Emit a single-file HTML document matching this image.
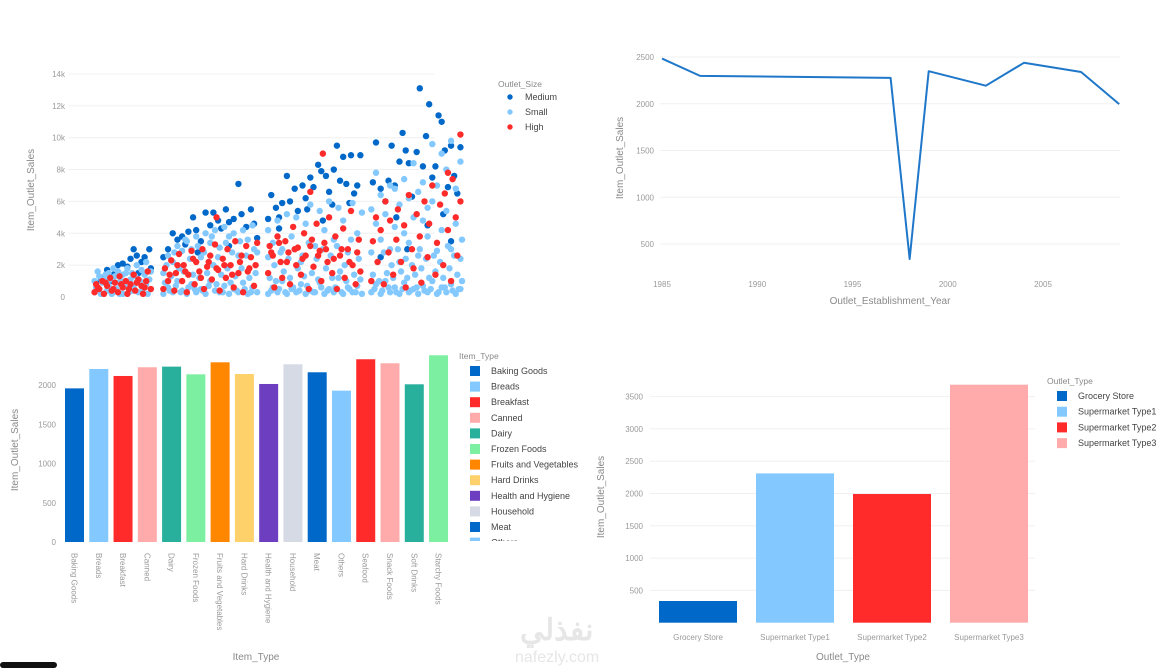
<!DOCTYPE html>
<html><head><meta charset="utf-8"><style>
html,body{margin:0;padding:0;background:#fff;}
svg{display:block;font-family:"Liberation Sans","Noto Sans CJK SC",sans-serif;}
.tk{fill:#9a9a9a;font-size:8px;}
.ti{fill:#8a8a8a;font-size:10px;}
.lg{fill:#444;font-size:9px;}
.lt{fill:#888;font-size:8.5px;}
</style></head><body>
<svg id="s" width="1160" height="668" viewBox="0 0 1160 668">
<g id="scatter"></g>
<g id="line"></g>
<g id="bar1"></g>
<g id="bar2"></g>
<text x="520" y="640" fill="#e6e6e6" font-size="30" font-weight="bold">نفذلي</text>
<text x="515" y="662" fill="#e6e6e6" font-size="16">nafezly.com</text>
<rect x="0" y="662" width="57" height="6" rx="3" fill="#111"></rect>
</svg>
<script>
const NS="http://www.w3.org/2000/svg";
function mk(p,tag,a,txt){const e=document.createElementNS(NS,tag);for(const k in a)e.setAttribute(k,a[k]);if(txt!==undefined)e.textContent=txt;p.appendChild(e);return e;}

// ---------- Scatter data ----------
const scTicks=[0,2,4,6,8,10,12,14];
const scTickLabels=["0","2k","4k","6k","8k","10k","12k","14k"];
const scSeriesNames=["Medium","Small","High"];
const scColors=["#0068c9","#83c9ff","#ff2b2b"];
const mediumMrp=[33,36,40,44,47,50,53,55,57,59,62,64,67,68,42,60,76,79,82,85,88,90,92,95,97,100,103,106,108,111,113,116,118,121,124,126,129,132,134,136,98,118,143,145,148,150,152,155,157,160,162,165,167,170,172,175,177,180,182,185,187,189,191,193,196,198,200,202,168,184,195,150,178,210,212,215,218,220,222,224,227,229,231,233,235,238,240,242,244,246,248,250,252,254,256,258,260,262,264,266,225,245,255,232,260,215];
const mediumSales=[0.9,1.2,1.7,1.4,2.0,2.1,1.9,2.4,3.0,2.6,2.2,2.5,3.0,1.8,1.0,1.5,2.5,3.0,4.0,3.6,3.8,3.3,4.1,5.0,4.2,3.5,5.3,4.5,5.3,4.8,4.3,5.5,4.7,4.9,7.1,5.2,4.4,5.5,4.6,3.7,2.8,3.2,4.9,6.4,5.6,5.0,5.9,7.6,6.0,6.8,5.4,7.0,6.2,7.5,6.9,8.3,7.9,7.6,6.6,8.0,9.5,7.3,8.8,7.1,8.9,6.5,7.0,8.9,5.5,5.8,5.9,4.3,4.8,7.2,9.7,6.8,6.0,7.3,9.5,7.0,8.5,10.3,9.2,8.4,6.3,9.1,13.1,8.2,10.1,12.1,7.5,8.2,11.4,11.0,9.2,6.9,9.5,7.6,6.5,9.4,5.0,4.5,5.2,3.0,3.5,2.5];
const smallMrpA=[32,32,35,35,38,38,41,41,44,44,47,47,50,50,53,53,56,56,59,59,62,62,65,65,68,68,76,76,79,79,82,82,85,85,88,88,91,91,94,94,97,97,100,100,103,103,106,106,109,109,112,112,115,115,118,118,121,121,124,124,127,127,130,130,133,133,136,136,143,143,143,146,146,149,149,152,152,155,155,158,158,161,161,164,164,167,167,170,170,173,173,176,176,179,179,182,182,185,185,188,188,191,191,194,194,197,197,200,200,203,203,209,209,209,212,212,212,215,215,215,218,218,221,221,221,224,224,224,227,227,227,230,230,230,233,233,233,236,236,236,239,239,239,242,242,242,245,245,245,248,248,248,251,251,251,254,254,254,257,257,257,260,260,260,263,263,263,266,266,266];
const smallSalesA=[0.3,1.0,0.5,1.3,0.2,1.1,0.7,1.5,0.3,1.8,0.9,1.6,0.2,1.4,0.6,1.8,0.4,1.5,0.9,2.0,0.3,1.7,0.8,2.2,0.5,1.6,0.2,1.5,0.6,2.6,0.3,2.2,1.0,3.2,0.4,2.9,0.2,3.5,0.8,3.0,0.3,3.8,0.5,2.5,0.2,4.0,1.0,3.4,0.4,4.2,0.3,3.1,0.7,4.4,0.2,3.8,0.5,4.0,0.3,2.6,0.9,4.2,0.2,3.6,0.6,4.5,0.3,2.8,0.2,2.5,4.2,0.6,3.4,0.3,4.8,1.0,3.0,0.2,5.2,0.5,3.8,0.3,5.0,0.8,2.2,0.2,4.6,0.4,5.8,0.3,3.2,0.9,5.4,0.2,4.2,0.5,6.0,0.3,3.6,1.2,5.6,0.2,4.8,0.6,2.8,0.3,5.9,0.7,4.0,0.2,5.3,0.3,2.8,5.5,0.8,4.6,7.8,0.2,3.6,6.4,1.0,5.2,0.3,3.0,7.0,0.6,4.4,6.8,0.2,2.2,5.8,0.9,4.0,7.4,0.3,3.4,6.2,0.5,5.0,8.4,0.2,2.6,6.6,0.7,4.8,7.2,0.3,3.8,5.6,1.0,6.0,9.6,0.2,2.9,7.0,0.6,4.2,9.0,0.3,5.4,8.0,0.8,3.0,9.8,0.2,4.6,6.8,0.5,2.4,8.5];
const smallMrpB=[33,34,36,37,39,40,42,43,45,46,48,49,51,52,54,55,57,58,60,61,63,64,66,67,77,78,80,81,83,84,86,87,89,90,92,93,95,96,98,99,101,102,104,105,107,108,110,111,113,114,116,117,119,120,122,123,125,126,128,129,131,132,134,135,144,145,147,148,150,151,153,154,156,157,159,160,162,163,165,166,168,169,171,172,174,175,177,178,180,181,183,184,186,187,189,190,192,193,195,196,198,199,201,202,210,211,213,214,216,217,219,220,222,223,225,226,228,229,231,232,234,235,237,238,240,241,243,244,246,247,249,250,252,253,255,256,258,259,261,262,264,265,267,267];
const smallSalesB=[0.6,1.6,0.2,0.9,1.4,0.4,1.1,0.2,1.3,0.5,0.2,1.0,0.7,1.5,0.3,1.1,0.6,1.3,0.3,1.0,0.5,1.4,0.2,1.1,0.9,2.0,0.4,1.3,2.8,0.7,1.8,0.3,1.6,3.6,0.6,2.4,1.4,0.5,3.2,1.2,0.4,2.8,1.5,0.7,3.8,2.0,0.8,2.5,1.4,0.3,3.4,1.8,0.9,2.8,1.3,0.4,3.5,1.8,0.5,2.6,1.2,0.3,3.0,1.5,1.2,0.4,2.0,1.0,0.5,2.8,1.6,0.3,2.4,1.2,0.6,3.0,1.8,0.4,2.6,1.3,0.7,3.4,1.5,0.3,2.4,1.1,0.6,3.0,1.8,0.4,2.6,1.2,0.6,3.2,1.6,0.3,2.0,1.0,0.5,3.6,1.4,0.3,2.4,1.1,1.4,0.5,2.2,1.0,0.4,2.8,1.5,0.6,2.0,1.2,0.3,3.0,1.6,0.5,2.4,1.2,0.4,2.0,1.4,0.6,3.0,1.8,0.4,2.4,1.2,0.5,2.6,1.6,0.3,2.2,1.2,0.6,3.2,1.8,0.4,2.6,1.4,0.5,3.6,1.0];
const smallMrp=smallMrpA.concat(smallMrpB);
const smallSales=smallSalesA.concat(smallSalesB);
const highMrp=[32,33,35,37,38,40,42,43,45,47,48,50,52,53,55,57,58,60,62,63,65,66,68,76,77,79,81,83,84,86,88,89,91,92,94,96,97,99,101,102,104,106,107,109,111,112,114,116,117,119,121,122,124,126,127,129,131,132,134,136,110,143,144,146,147,149,151,152,154,156,157,159,161,162,164,166,167,169,171,172,174,176,177,179,181,182,184,186,187,189,191,192,194,196,197,199,201,202,178,170,209,210,212,213,215,217,218,220,221,223,225,226,228,230,231,233,235,236,238,240,241,243,245,246,248,250,251,253,255,256,258,260,261,263,264,266,266,258,34,39,44,49,54,59,64,80,85,90,95,100,105,110,115,120,125,130,135,145,150,155,160,165,170,175,180,185,190,195,200];
const highSales=[0.3,0.8,0.5,1.0,0.2,0.7,1.2,0.4,0.9,0.3,1.3,0.6,1.0,0.2,0.8,1.4,0.4,1.1,0.7,0.2,1.0,1.6,0.5,0.5,1.8,1.0,2.3,0.4,1.5,2.7,1.0,2.0,0.3,1.4,2.9,0.8,2.2,1.6,3.0,0.5,1.9,2.6,1.1,3.3,1.7,0.4,2.4,1.2,3.0,2.0,0.6,3.5,1.5,2.6,0.3,3.2,1.8,2.5,0.7,3.4,5.0,1.5,3.2,2.6,0.6,3.8,2.2,1.2,3.5,2.8,0.8,4.4,2.0,3.1,1.4,4.0,2.6,0.5,3.6,1.9,4.6,2.9,1.0,3.4,2.2,5.0,1.5,3.8,0.5,2.6,4.3,1.2,3.0,5.4,2.0,0.8,3.6,1.6,9.0,6.6,1.0,3.5,5.0,2.2,4.2,0.8,6.0,2.8,4.8,1.4,3.6,5.5,2.2,4.5,0.6,6.4,3.0,1.8,5.2,3.8,0.9,6.0,2.5,4.6,7.0,1.4,3.4,5.8,2.0,6.5,4.2,1.0,7.4,5.0,2.6,6.0,10.2,7.8,0.6,0.9,0.5,0.8,0.5,0.9,0.6,1.4,2.0,1.6,2.4,1.2,2.2,1.8,2.0,1.4,2.2,1.6,2.0,2.8,3.4,2.2,3.0,2.4,3.2,2.6,3.0,2.4,3.0,2.2,2.8];
const scMrp=[mediumMrp,smallMrp,highMrp];
const scSales=[mediumSales,smallSales,highSales];

// ---------- Line data ----------
const lnYears=[1985,1987,1997,1998,1999,2002,2004,2007,2009];
const lnSales=[2483,2298,2277,340,2348,2193,2438,2340,1996];
const lnYTicks=[500,1000,1500,2000,2500];
const lnXTicks=[1985,1990,1995,2000,2005];

// ---------- Item type bar data ----------
const itemTypes=["Baking Goods","Breads","Breakfast","Canned","Dairy","Frozen Foods","Fruits and Vegetables","Hard Drinks","Health and Hygiene","Household","Meat","Others","Seafood","Snack Foods","Soft Drinks","Starchy Foods"];
const itemSales=[1957,2204,2115,2226,2234,2136,2289,2140,2013,2264,2162,1928,2328,2277,2009,2379];
const itemColors=["#0068c9","#83c9ff","#ff2b2b","#ffabab","#29b09d","#7defa1","#ff8700","#ffd16a","#6d3fc0","#d5dae5","#0068c9","#83c9ff","#ff2b2b","#ffabab","#29b09d","#7defa1"];
const itemYTicks=[0,500,1000,1500,2000];

// ---------- Outlet type bar data ----------
const outletTypes=["Grocery Store","Supermarket Type1","Supermarket Type2","Supermarket Type3"];
const outletSales=[336,2311,1992,3684];
const outletColors=["#0068c9","#83c9ff","#ff2b2b","#ffabab"];
const outletYTicks=[500,1000,1500,2000,2500,3000,3500];

// ===== Scatter =====
(function(){
const g=document.getElementById('scatter');
const sx=v=>93+(v-31)*(462-93)/(267-31);
const sy=v=>297-v*15.93;
scTicks.forEach((t,i)=>{
  const l=mk(g,'line',{x1:68,x2:435,y1:sy(t),y2:sy(t),stroke:t===0?'#fff':'#f0f0f0','stroke-width':1});
  
  
  const tx=mk(g,'text',{x:65,y:sy(t)+3,'text-anchor':'end',class:'tk'},scTickLabels[i]);
  
  
});
const yt=mk(g,'text',{x:0,y:0,class:'ti',transform:'translate(34,190) rotate(-90)','text-anchor':'middle'},'Item_Outlet_Sales');


[0,1,2].forEach(s=>{
  scMrp[s].forEach((m,i)=>{
    const c=mk(g,'circle',{cx:sx(m),cy:sy(scSales[s][i]),r:3.2,fill:scColors[s]});
    
    
  });
});
const lt=mk(g,'text',{x:498,y:87,class:'lt'},'Outlet_Size');


scSeriesNames.forEach((n,i)=>{
  const y=98+i*15;
  const d=mk(g,'circle',{cx:510,cy:y-1,r:2.7,fill:scColors[i]});
  
  
  const t=mk(g,'text',{x:525,y:y+2,class:'lg'},n);
  
  
});
})();

// ===== Line =====
(function(){
const g=document.getElementById('line');
const sx=v=>662+(v-1985)*19.05;
const sy=v=>57+(2500-v)*0.0935;
lnYTicks.forEach(t=>{
  const l=mk(g,'line',{x1:660,x2:1120,y1:sy(t),y2:sy(t),stroke:'#f0f0f0'});
  
  
  const tx=mk(g,'text',{x:654,y:sy(t)+3,'text-anchor':'end',class:'tk'},String(t));
  
  
});
lnXTicks.forEach(t=>{
  const tx=mk(g,'text',{x:sx(t),y:287,'text-anchor':'middle',class:'tk'},String(t));
  
  
});
const pts=lnYears.map((y,i)=>sx(y)+','+sy(lnSales[i])).join(' ');
const pl=mk(g,'polyline',{points:pts,fill:'none',stroke:'#1f77c9','stroke-width':2,'stroke-linejoin':'round'});


const xt=mk(g,'text',{x:890,y:304,'text-anchor':'middle',class:'ti'},'Outlet_Establishment_Year');


const yt=mk(g,'text',{x:0,y:0,class:'ti',transform:'translate(623,158) rotate(-90)','text-anchor':'middle'},'Item_Outlet_Sales');


})();

// ===== Item type bars =====
(function(){
const g=document.getElementById('bar1');
const sy=v=>542-v*0.0785;
const bx=i=>65+i*24.27;
itemYTicks.forEach(t=>{
  const tx=mk(g,'text',{x:56,y:sy(t)+3,'text-anchor':'end',class:'tk'},String(t));
  
  
});
itemTypes.forEach((n,i)=>{
  const r=mk(g,'rect',{x:bx(i),y:sy(itemSales[i]),width:19,height:itemSales[i]*0.0785,fill:itemColors[i]});
  
  
  const cx=bx(i)+9.5;
  const t=mk(g,'text',{x:0,y:0,class:'tk',transform:'translate('+(cx-3)+',553) rotate(90)'},n);
  
  
});
const xt=mk(g,'text',{x:256,y:660,'text-anchor':'middle',class:'ti'},'Item_Type');


const yt=mk(g,'text',{x:0,y:0,class:'ti',transform:'translate(18,450) rotate(-90)','text-anchor':'middle'},'Item_Outlet_Sales');


const lt=mk(g,'text',{x:459,y:359,class:'lt'},'Item_Type');


const clip=mk(g,'clipPath',{id:'lgclip'});
mk(clip,'rect',{x:460,y:360,width:140,height:181});
const lg=mk(g,'g',{'clip-path':'url(#lgclip)'});


itemTypes.forEach((n,i)=>{
  const y=366+i*15.6;
  const s=mk(lg,'rect',{x:470,y:y,width:10,height:10,fill:itemColors[i]});
  
  
  const t=mk(lg,'text',{x:491,y:y+8,class:'lg'},n);
  
  
});
})();

// ===== Outlet type bars =====
(function(){
const g=document.getElementById('bar2');
const k=32.3/500;
const sy=v=>622.7-v*k;
const bx=i=>659+i*97;
outletYTicks.forEach(t=>{
  const l=mk(g,'line',{x1:650,x2:1035,y1:sy(t),y2:sy(t),stroke:'#f0f0f0'});
  
  
  const tx=mk(g,'text',{x:643,y:sy(t)+3,'text-anchor':'end',class:'tk'},String(t));
  
  
});
outletTypes.forEach((n,i)=>{
  const r=mk(g,'rect',{x:bx(i),y:sy(outletSales[i]),width:78,height:outletSales[i]*k,fill:outletColors[i]});
  
  
  const t=mk(g,'text',{x:bx(i)+39,y:640,'text-anchor':'middle',class:'tk'},n);
  
  
});
const xt=mk(g,'text',{x:843,y:660,'text-anchor':'middle',class:'ti'},'Outlet_Type');


const yt=mk(g,'text',{x:0,y:0,class:'ti',transform:'translate(604,497) rotate(-90)','text-anchor':'middle'},'Item_Outlet_Sales');


const lt=mk(g,'text',{x:1047,y:384,class:'lt'},'Outlet_Type');


outletTypes.forEach((n,i)=>{
  const y=391+i*15.7;
  const s=mk(g,'rect',{x:1057,y:y,width:10,height:10,fill:outletColors[i]});
  
  
  const t=mk(g,'text',{x:1078,y:y+8,class:'lg'},n);
  
  
});
})();
</script>
</body></html>
